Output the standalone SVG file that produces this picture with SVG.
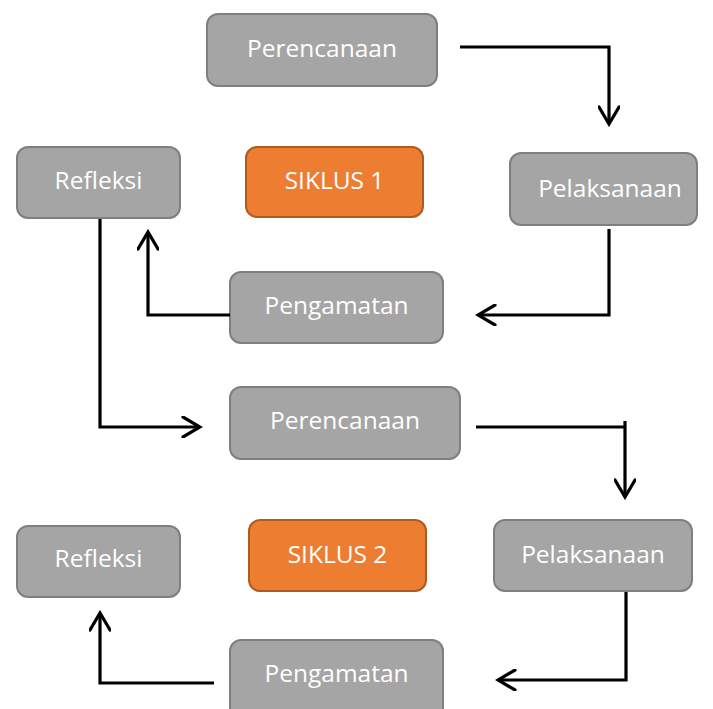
<svg xmlns="http://www.w3.org/2000/svg" width="713" height="709" viewBox="0 0 713 709">
<style>
.box{fill:#A5A5A5;stroke:#7F7F7F;stroke-width:2}
.org{fill:#ED7D31;stroke:#AE5A21;stroke-width:2}
.lbl{font-family:"Open Sans","Noto Sans",sans-serif;font-size:24.5px;fill:#FFFFFF;text-anchor:middle}
.ln{fill:none;stroke:#000000;stroke-width:3.2}
.con{fill:none;stroke:#000000;stroke-width:3.2;marker-end:url(#ah)}
</style>
<defs>
<marker id="ah" viewBox="0 0 22 22" refX="19" refY="11" markerWidth="22" markerHeight="22" markerUnits="userSpaceOnUse" orient="auto">
<path d="M2,1 L19,11 L2,21" fill="none" stroke="#000000" stroke-width="3.2" stroke-linecap="round" stroke-linejoin="miter"/>
</marker>
</defs>
<rect width="713" height="709" fill="#FFFFFF"/>
<g id="perencanaan1"><rect class="box" x="207" y="14" width="230" height="72" rx="11"/><text class="lbl" x="322" y="57">Perencanaan</text></g>
<g id="refleksi1"><rect class="box" x="17" y="147" width="163" height="71" rx="11"/><text class="lbl" x="98.5" y="189">Refleksi</text></g>
<g id="siklus1"><rect class="org" x="246" y="147" width="177" height="70" rx="11"/><text class="lbl" x="334.5" y="189">SIKLUS 1</text></g>
<g id="pelaksanaan1"><rect class="box" x="510" y="153" width="187" height="72" rx="11"/><text class="lbl" x="610" y="197">Pelaksanaan</text></g>
<g id="pengamatan1"><rect class="box" x="230" y="272" width="213" height="71" rx="11"/><text class="lbl" x="336.5" y="314">Pengamatan</text></g>
<g id="perencanaan2"><rect class="box" x="230" y="387" width="230" height="72" rx="11"/><text class="lbl" x="345" y="429">Perencanaan</text></g>
<g id="siklus2"><rect class="org" x="249" y="520" width="177" height="71" rx="11"/><text class="lbl" x="337.5" y="563">SIKLUS 2</text></g>
<g id="pelaksanaan2"><rect class="box" x="494" y="520" width="198" height="71" rx="11"/><text class="lbl" x="593" y="563">Pelaksanaan</text></g>
<g id="refleksi2"><rect class="box" x="17" y="526" width="163" height="71" rx="11"/><text class="lbl" x="98.5" y="567">Refleksi</text></g>
<g id="pengamatan2"><rect class="box" x="230" y="640" width="213" height="80" rx="11"/><text class="lbl" x="336.5" y="682">Pengamatan</text></g>
<g id="connectors">
<polyline class="con" points="460,47 609,47 609,124"/>
<polyline class="con" points="609,229 609,315 478,315"/>
<polyline class="con" points="230,315 148,315 148,232"/>
<polyline class="con" points="100,219 100,427 200,427"/>
<polyline class="ln" points="476,427 625,427"/>
<polyline class="con" points="625,421 625,497"/>
<polyline class="con" points="626,592 626,680 498,680"/>
<polyline class="con" points="214,683 100,683 100,613"/>
</g>
</svg>
